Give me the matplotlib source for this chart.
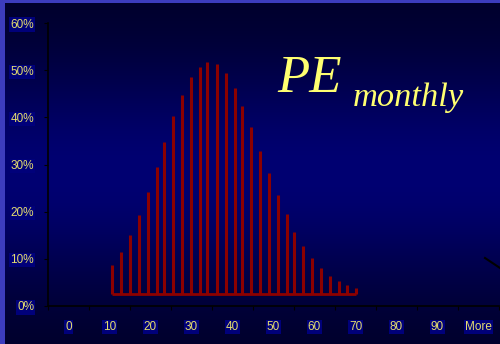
import numpy as np
import matplotlib
matplotlib.use("Agg")
from matplotlib import pyplot as plt
from matplotlib.ticker import FuncFormatter

# PE ratio levels and share of months at each level
pe = [10.7, 12.7, 14.9, 17.1, 19.3, 21.5, 23.4, 25.6, 27.6, 29.8,
      32.0, 33.9, 36.1, 38.3, 40.5, 42.4, 44.6, 46.8, 48.8, 51.0,
      53.2, 55.1, 57.3, 59.5, 61.5, 63.7, 65.9, 68.0, 70.0]
share = [0.086, 0.114, 0.150, 0.192, 0.242, 0.295, 0.348, 0.403, 0.448, 0.485,
         0.506, 0.517, 0.513, 0.494, 0.463, 0.424, 0.380, 0.329, 0.282, 0.235,
         0.194, 0.157, 0.127, 0.102, 0.081, 0.064, 0.053, 0.044, 0.0375]
base = 0.025

bin_labels = ['0', '10', '20', '30', '40', '50', '60', '70', '80', '90', 'More']
bin_centers = [0, 10, 20, 30, 40, 50, 60, 70, 80, 90, 100]

label_color = '#e4dc6e'
bar_color = '#8c0000'

fig = plt.figure(figsize=(5, 3.44), dpi=100)
fig.patch.set_facecolor('#3c3cbe')

# background panel with vertical gradient
bg = fig.add_axes([5 / 500, 0, 1 - 5 / 500, 1 - 3 / 344])
bg.set_axis_off()
t = np.linspace(0, 1, 256)
g = np.exp(-((t - 0.5) / 0.33) ** 2)
top = np.array([0, 0, 0x26]) / 255
mid = np.array([0, 0, 0x72]) / 255
grad = top[None, :] + (mid - top)[None, :] * g[:, None]
bg.imshow(grad[:, None, :], aspect='auto', extent=[0, 1, 0, 1])
bg.set_xlim(0, 1)
bg.set_ylim(0, 1)

ax = fig.add_axes([48 / 500, 1 - 306 / 344, 451 / 500, 283 / 344])
ax.patch.set_alpha(0)

ax.vlines(pe, base, share, color=bar_color, linewidth=2.2)
ax.hlines(base, pe[0], pe[-1], color=bar_color, linewidth=2)

ax.set_xlim(-5, 105)
ax.set_ylim(0, 0.6)

for s in ['top', 'right']:
    ax.spines[s].set_visible(False)
for s in ['left', 'bottom']:
    ax.spines[s].set_color('black')
    ax.spines[s].set_linewidth(1.2)

ax.set_yticks(np.arange(0, 0.61, 0.1))
ax.yaxis.set_major_formatter(FuncFormatter(lambda v, p: f'{v * 100:.0f}%'))
ax.tick_params(axis='y', colors='black', length=3, pad=7)

ax.set_xticks(np.arange(-5, 106, 10))
ax.set_xticklabels([])
ax.set_xticks(bin_centers, minor=True)
ax.set_xticklabels(bin_labels, minor=True)
ax.tick_params(axis='x', which='major', colors='black', length=3)
ax.tick_params(axis='x', which='minor', length=0, pad=11)

for lab in ax.get_yticklabels() + ax.get_xticklabels(minor=True):
    lab.set_color(label_color)
    lab.set_fontsize(8.5)
    lab.set_fontfamily('Liberation Sans')
    lab.set_bbox(dict(facecolor='#00007a', edgecolor='none', pad=0.8))

fig.text(277 / 500, 1 - 92 / 344, 'PE', color='#ffff70', fontsize=38,
         family='Liberation Serif', style='italic', va='baseline')
fig.text(353 / 500, 1 - 106 / 344, 'monthly', color='#ffff70', fontsize=24.8,
         family='Liberation Serif', style='italic', va='baseline')

# stray connector line at the right edge
fig.add_artist(plt.Line2D([485 / 500, 1.0], [1 - 258 / 344, 1 - 268 / 344],
                          color='black', linewidth=1.5))

fig.savefig('out.png', dpi=100, facecolor=fig.get_facecolor())
